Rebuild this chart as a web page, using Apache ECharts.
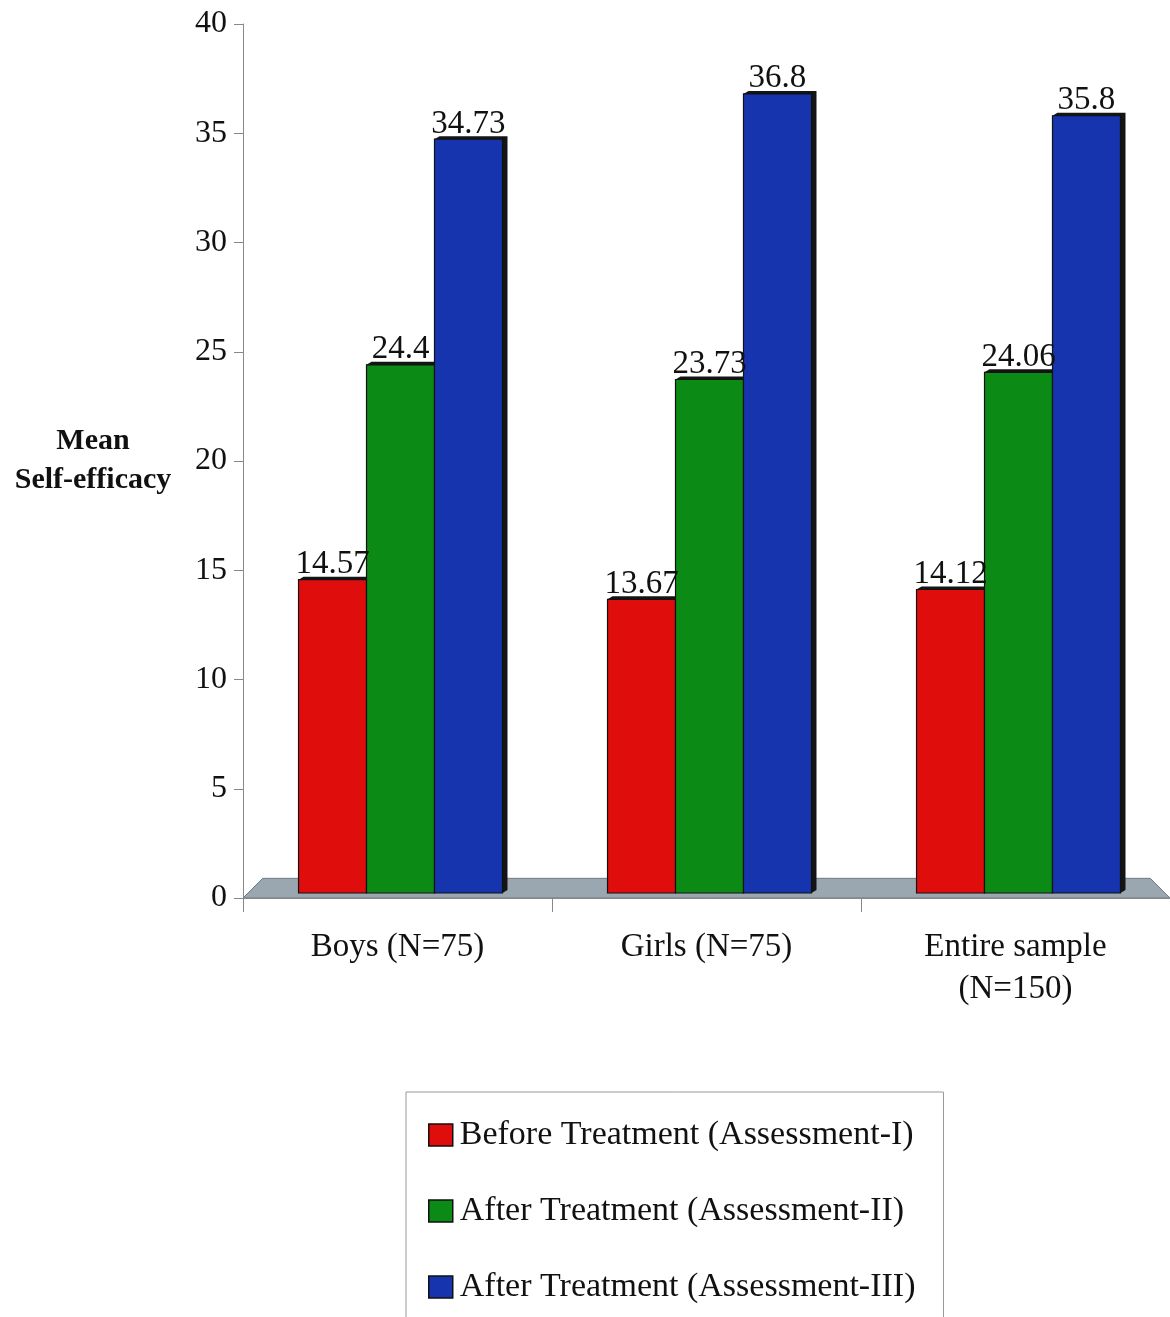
<!DOCTYPE html>
<html>
<head>
<meta charset="utf-8">
<title>Mean Self-efficacy</title>
<script src="https://cdn.jsdelivr.net/npm/echarts@6/dist/echarts.min.js"></script>
<style>
  html, body { margin: 0; padding: 0; background: #fff; }
  #main { width: 1170px; height: 1317px; }
</style>
</head>
<body>
<div id="main"></div>
<script>
var categories = ['Boys (N=75)', 'Girls (N=75)', 'Entire sample\n(N=150)'];
var seriesNames = [
  'Before Treatment (Assessment-I)',
  'After Treatment (Assessment-II)',
  'After Treatment (Assessment-III)'
];
var beforeI = [14.57, 13.67, 14.12];
var afterII = [24.4, 23.73, 24.06];
var afterIII = [34.73, 36.8, 35.8];
var colors = ['#e00d0d', '#0c8a16', '#1634ae'];

var serif = '"Liberation Serif", "DejaVu Serif", serif';
var depth = 5;

var myChart = echarts.init(document.getElementById('main'));

// bar with a dark side and top, like the old 3d office charts
function bar3d(seriesIdx, color) {
  return function (params, api) {
    var idx = api.value(0);
    var val = api.value(1);
    var catW = api.size([1, 0])[0];
    var w = catW * 0.22;
    var center = api.coord([idx, 0])[0] + 3;
    var x = center + (seriesIdx - 1.5) * w;
    var top = api.coord([idx, val])[1];
    var bottom = api.coord([idx, 0])[1] - 5;
    var d = depth;
    return {
      type: 'group',
      children: [{
        type: 'polygon',
        shape: { points: [[x, top], [x + d, top - 3], [x + w + d, top - 3], [x + w + d, bottom - 3], [x + w, bottom]] },
        style: { fill: '#141414' }
      }, {
        type: 'rect',
        shape: { x: x, y: top, width: w, height: bottom - top },
        style: { fill: color, stroke: '#111', lineWidth: 1.2 },
        textContent: {
          style: { text: String(val), fontFamily: serif, fontSize: 33, fill: '#111' }
        },
        textConfig: { position: 'top', distance: -2 }
      }]
    };
  };
}

function series(i, data) {
  return {
    name: seriesNames[i],
    type: 'custom',
    renderItem: bar3d(i, colors[i]),
    itemStyle: { color: colors[i] },
    encode: { x: 0, y: 1 },
    data: data.map(function (v, k) { return [k, v]; }),
    z: 3
  };
}

myChart.setOption({
  backgroundColor: '#fff',
  animation: false,
  grid: { left: 243, right: 0, top: 24, bottom: 419 },
  legend: {
    orient: 'vertical',
    left: 406,
    top: 1092,
    height: 240,
    padding: [26, 28, 40, 22],
    itemGap: 42,
    itemWidth: 24,
    itemHeight: 22,
    borderColor: '#999',
    borderWidth: 1,
    icon: 'rect',
    itemStyle: { borderColor: '#111', borderWidth: 1.5 },
    textStyle: { fontFamily: serif, fontSize: 34, color: '#111', padding: [0, 0, 0, 2] },
    data: seriesNames
  },
  xAxis: {
    type: 'category',
    data: categories,
    axisLine: { show: true, lineStyle: { color: '#888', width: 1 } },
    axisTick: { show: true, length: 14, lineStyle: { color: '#888' } },
    axisLabel: { margin: 28, fontFamily: serif, fontSize: 33, color: '#111', lineHeight: 42 }
  },
  yAxis: {
    type: 'value',
    min: 0,
    max: 40,
    interval: 5,
    name: 'Mean\nSelf-efficacy',
    nameLocation: 'middle',
    nameRotate: 0,
    nameGap: 150,
    nameTextStyle: { fontFamily: serif, fontSize: 30, fontWeight: 'bold', color: '#111', lineHeight: 39, align: 'center' },
    axisLine: { show: true, lineStyle: { color: '#888', width: 1 } },
    axisTick: { show: true, length: 9, lineStyle: { color: '#888' } },
    axisLabel: { margin: 16, fontFamily: serif, fontSize: 32, color: '#111' },
    splitLine: { show: false }
  },
  series: [
    series(0, beforeI),
    series(1, afterII),
    series(2, afterIII)
  ]
});

// gray floor under the bars, placed through the axis scale
var y0 = myChart.convertToPixel({ yAxisIndex: 0 }, 0);
var yTop = myChart.convertToPixel({ yAxisIndex: 0 }, 0.9);
var xl = 243, xr = myChart.getWidth();
var slant = y0 - yTop;
myChart.setOption({
  graphic: [{
    type: 'polygon',
    z: 0,
    shape: { points: [[xl, y0], [xl + slant, yTop], [xr - slant, yTop], [xr, y0]] },
    style: { fill: '#9aa6b0', stroke: '#6f7a84', lineWidth: 1 }
  }]
});
</script>
</body>
</html>
